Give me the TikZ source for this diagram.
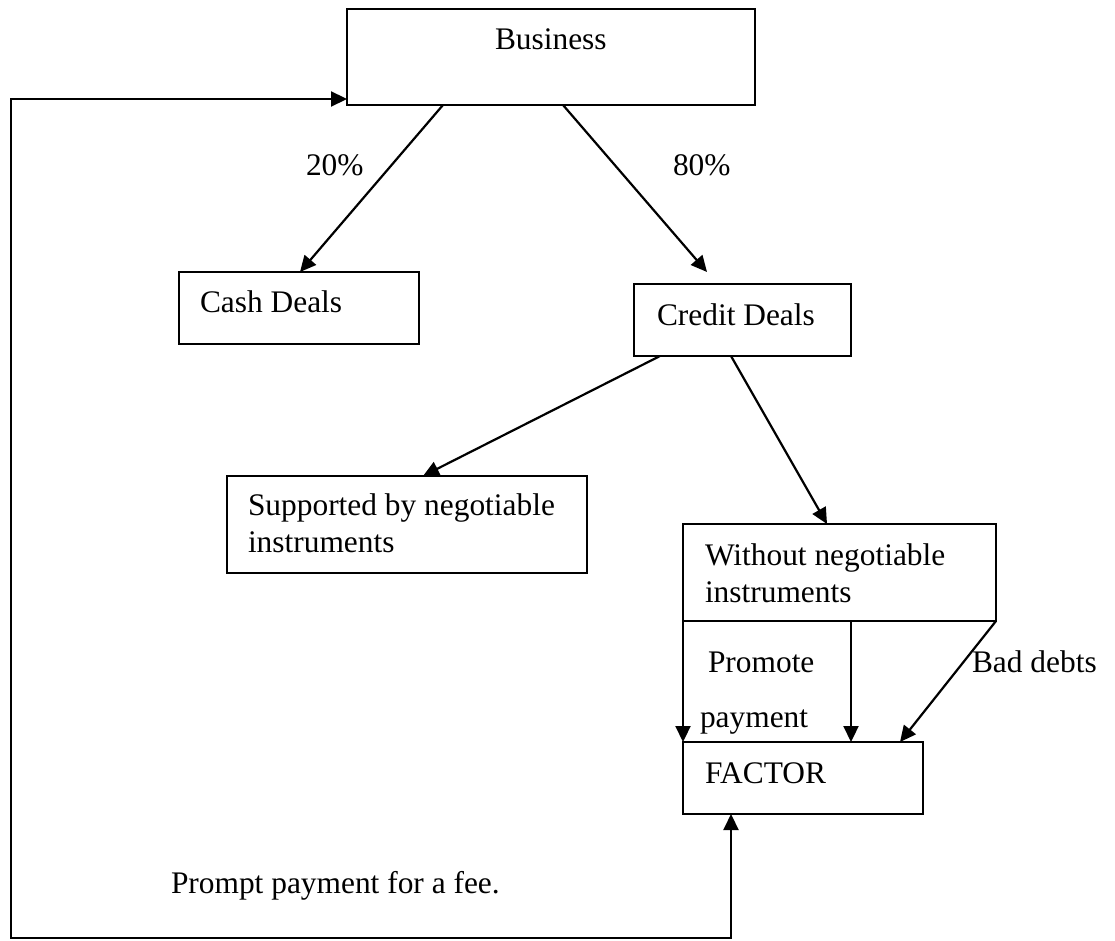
\documentclass[tikz,border=0pt]{standalone}
\usepackage{fontspec}
\setmainfont{Liberation Serif}
\usetikzlibrary{arrows.meta}
\tikzset{
  box/.style={draw, line width=1.6pt, rectangle, inner sep=0pt, outer sep=0pt},
  txt/.style={inner sep=0pt, outer sep=0pt, anchor=base west, font=\fontsize{31.4}{37.5}\selectfont},
  tip/.style={Triangle[length=16pt,width=15pt]},
  arr/.style={line width=2.2pt, -{Triangle[length=16pt,width=15pt]}},
}
\begin{document}
\begin{tikzpicture}[x=1pt,y=-1pt]
\useasboundingbox (0,0) rectangle (1115,941);
% boxes
\node[box, minimum width=408pt, minimum height=96pt] (bus) at (551,57) {};
\node[box, minimum width=240pt, minimum height=72pt] (cash) at (299,308) {};
\node[box, minimum width=217pt, minimum height=72pt] (credit) at (742.5,320) {};
\node[box, minimum width=360pt, minimum height=97pt] (supp) at (407,524.5) {};
\node[box, minimum width=313pt, minimum height=97pt] (without) at (839.5,572.5) {};
\node[box, minimum width=240pt, minimum height=72pt] (factor) at (803,778) {};
% texts
\node[txt] (tbus) at (495,50) {Business};
\node[txt] (t20) at (306,176) {20\%};
\node[txt] (t80) at (673,176) {80\%};
\node[txt] (tcash) at (200,312) {Cash Deals};
\node[txt] (tcredit) at (657,325) {Credit Deals};
\node[txt] (tsupp) at (248,515) {\begin{tabular}[t]{@{}l@{}}Supported by negotiable\\instruments\end{tabular}};
\node[txt] (twithout) at (705,565) {\begin{tabular}[t]{@{}l@{}}Without negotiable\\instruments\end{tabular}};
\node[txt] (tpromote) at (708,672) {Promote};
\node[txt] (tpayment) at (700,727) {payment};
\node[txt] (tbad) at (972,672) {Bad debts};
\node[txt] (tfactor) at (705,783) {FACTOR};
\node[txt] (tprompt) at (171,893) {Prompt payment for a fee.};
% connectors
\draw[arr] ([xshift=96pt]bus.south west) -- ([xshift=121pt]cash.north west);
\draw[arr] ([xshift=216pt]bus.south west) -- ([xshift=73pt,yshift=12pt]credit.north west);
\draw[arr] ([xshift=26pt]credit.south west) -- ([xshift=196pt]supp.north west);
\draw[arr] ([xshift=97pt]credit.south west) -- ([xshift=144pt]without.north west);
\draw[arr] (without.south west) -- (factor.north west);
\draw[arr] ([xshift=168pt]without.south west) -- ([xshift=168pt]factor.north west);
\draw[arr] (without.south east) -- ([xshift=217pt]factor.north west);
\coordinate (c1) at (11,938);
\draw[line width=2.2pt, {Triangle[length=16pt,width=15pt]}-{Triangle[length=16pt,width=15pt]}]
  ([xshift=48pt]factor.south west) |- (c1) |- ([yshift=6pt]bus.south west);
\end{tikzpicture}
\end{document}
